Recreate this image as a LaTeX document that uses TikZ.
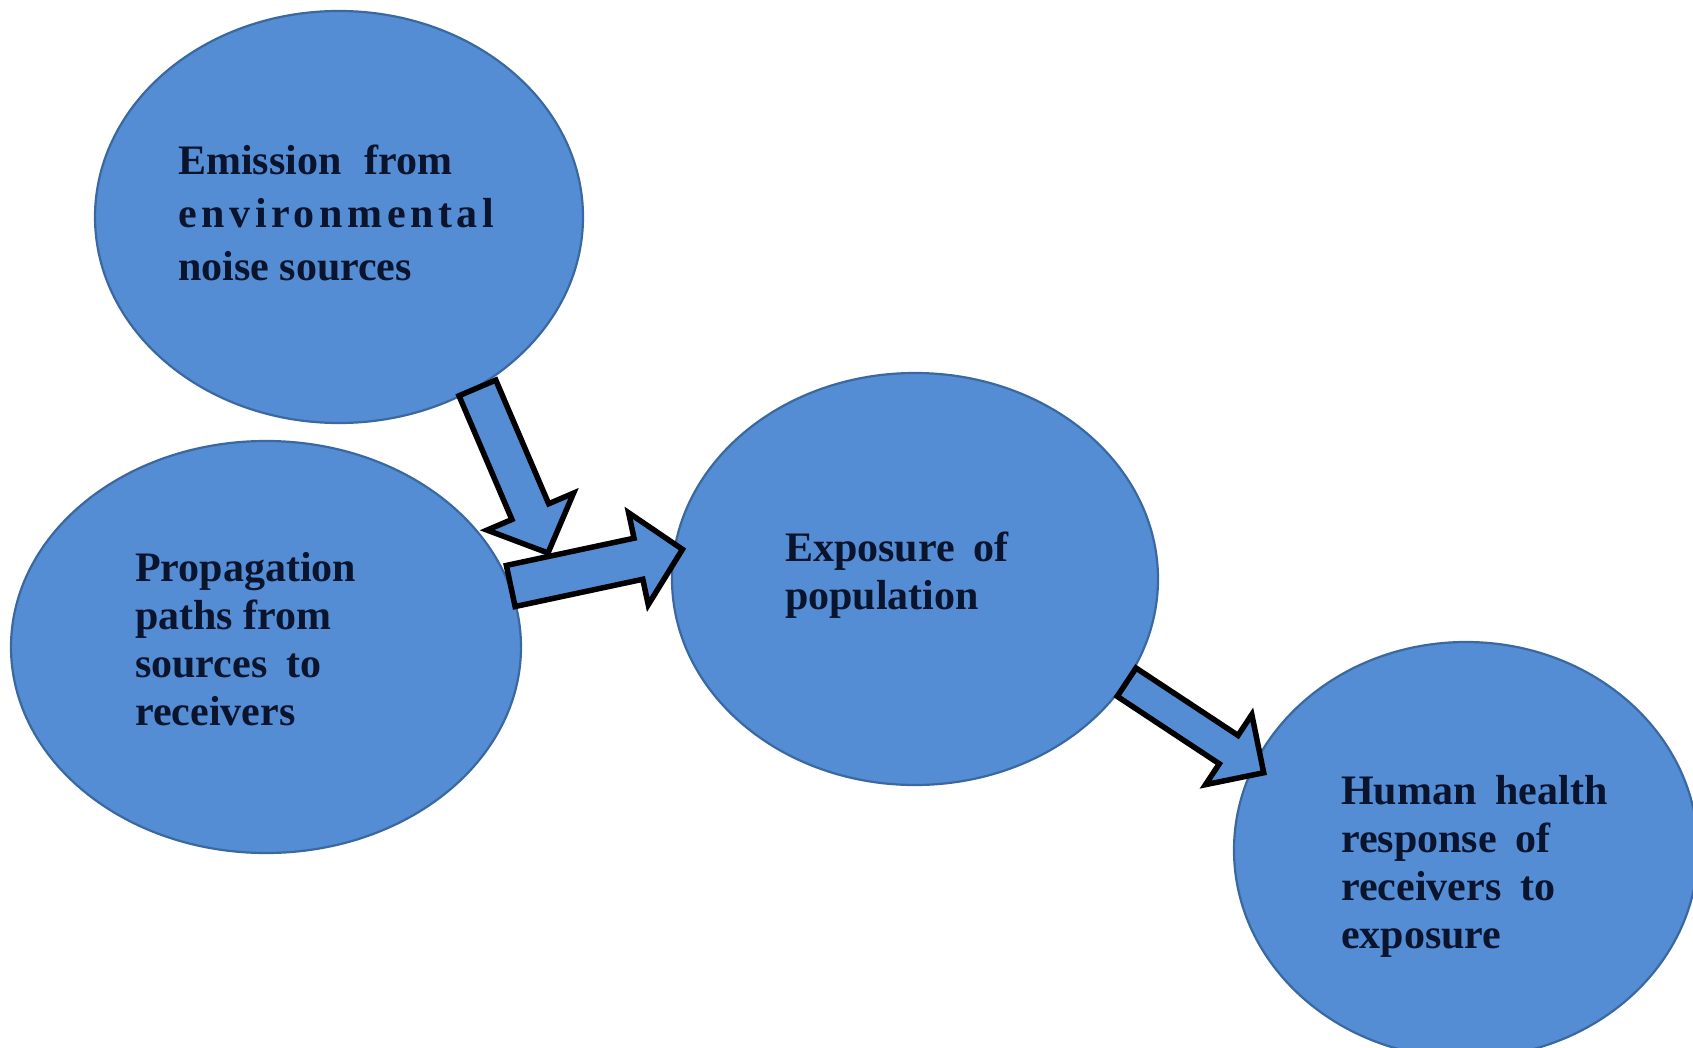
\documentclass[tikz,border=0pt]{standalone}
\usepackage{fontspec}
\setmainfont{Liberation Serif}
\usetikzlibrary{calc,shapes.geometric}

\definecolor{bubble}{RGB}{84,141,212}
\definecolor{bubbleline}{RGB}{58,104,160}
\definecolor{ink}{RGB}{10,20,45}

% Block arrow from #1 (tail centre) to #2 (tip);
% #3 half shaft width, #4 half head width, #5 head length
\newcommand\blockarrow[5]{%
  \coordinate (neck) at ($(#2)!#5!(#1)$);
  \draw[arrowbody]
    ($(#1)!#3!90:(#2)$) -- ($(neck)!#3!90:(#2)$) -- ($(neck)!#4!90:(#2)$)
    -- (#2)
    -- ($(neck)!#4!-90:(#2)$) -- ($(neck)!#3!-90:(#2)$) -- ($(#1)!#3!-90:(#2)$)
    -- cycle;}

\begin{document}
\begin{tikzpicture}[x=1pt,y=-1pt,
  bubblestyle/.style={ellipse, draw=bubbleline, line width=2.2pt, fill=bubble, inner sep=0pt},
  labeltext/.style={anchor=west, align=left, text=ink, inner sep=0pt,
                    font=\fontsize{42}{48}\selectfont\bfseries},
  arrowbody/.style={draw=black, line width=5.5pt, fill=bubble, line join=miter}]

\clip (0,0) rectangle (1693,1048);
\fill[white] (0,0) rectangle (1693,1048);

% stages
\node[bubblestyle, minimum width=488, minimum height=412] (emis) at (339,217) {};
\node[bubblestyle, minimum width=510, minimum height=412] (prop) at (266,647) {};
\node[bubblestyle, minimum width=486, minimum height=412] (expo) at (915,579) {};
\node[bubblestyle, minimum width=464, minimum height=416] (hum)  at (1466,850) {};

% flow arrows
\coordinate (emistail) at (emis.-51);
\coordinate (joint) at (548,553);
\blockarrow{emistail}{joint}{20pt}{47pt}{45pt}

\coordinate (proptail) at (prop.14);
\coordinate (expotip) at ([xshift=9pt]expo.173);
\blockarrow{proptail}{expotip}{21pt}{47pt}{45pt}

\coordinate (expotail) at (expo.-26);
\coordinate (humtip) at ([xshift=12pt,yshift=-5pt]hum.159);
\blockarrow{expotail}{humtip}{17pt}{42pt}{42pt}

% labels
\node[labeltext, font=\fontsize{42}{53}\selectfont\bfseries] (emislabel) at (178,213)
  {Emission\hspace{0.3em} from\\{\addfontfeature{LetterSpace=11}environmental}\\noise sources};
\node[labeltext] (proplabel) at (135,639)
  {Propagation\\paths from\\sources\hspace{0.2em} to\\receivers};
\node[labeltext] (expolabel) at (785,575)
  {Exposure\hspace{0.2em} of\\population};
\node[labeltext] (humlabel) at (1341,866)
  {Human\hspace{0.2em} health\\response\hspace{0.2em} of\\receivers\hspace{0.2em} to\\exposure};

\end{tikzpicture}
\end{document}
